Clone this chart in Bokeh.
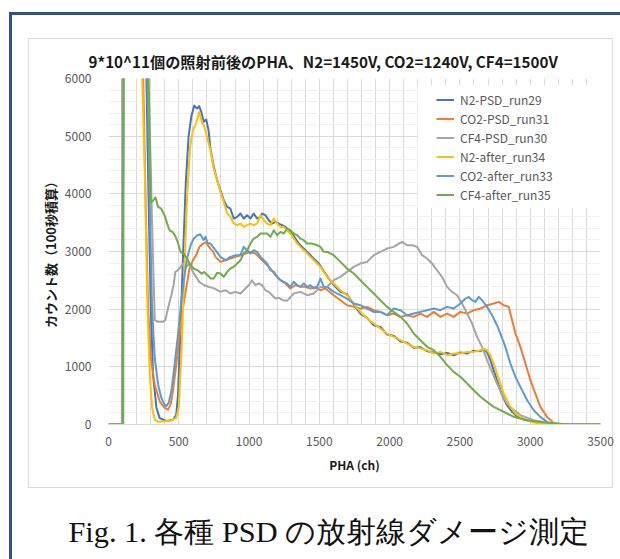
from bokeh.plotting import figure
from bokeh.layouts import column
from bokeh.models import FixedTicker, BoxAnnotation, Legend, LegendItem, Range1d
from bokeh.embed import file_html
from bokeh.resources import INLINE

# ---- text -------------------------------------------------------------
TITLE = "9*10^11個の照射前後のPHA、N2=1450V, CO2=1240V, CF4=1500V"
X_LABEL = "PHA (ch)"
Y_LABEL = "カウント数（100秒積算）"
CAPTION = "Fig. 1. 各種 PSD の放射線ダメージ測定"

X_TICKS = [0, 500, 1000, 1500, 2000, 2500, 3000, 3500]
Y_TICKS = [0, 1000, 2000, 3000, 4000, 5000, 6000]
X_GRID_STEP = 100
Y_MINOR_STEP = 200

# ---- series: (channel, counts) ---------------------------------------
N2_PSD_RUN29 = [
    (0, 0), (100, 0), (110, 12000), (200, 12000), (270, 6000), (282, 4300),
    (301, 2000), (317, 860), (341, 290), (364, 110), (411, 60), (458, 80),
    (482, 170), (494, 500), (510, 1500), (530, 2900), (550, 4200), (570, 5000),
    (590, 5350), (610, 5530), (630, 5480), (645, 5520), (660, 5420), (678, 5250),
    (695, 5290), (712, 5100), (725, 4785), (749, 4467), (773, 4236), (796, 4063),
    (820, 3889), (844, 3774), (867, 3745), (891, 3572), (915, 3600), (939, 3658),
    (962, 3572), (986, 3629), (1010, 3572), (1033, 3658), (1057, 3572),
    (1081, 3600), (1093, 3658), (1116, 3629), (1140, 3543), (1164, 3485),
    (1188, 3514), (1211, 3485), (1235, 3456), (1259, 3427), (1282, 3369),
    (1306, 3312), (1330, 3225), (1353, 3138), (1377, 3080), (1401, 3023),
    (1425, 2965), (1448, 2907), (1472, 2849), (1496, 2792), (1519, 2705),
    (1543, 2618), (1567, 2531), (1602, 2420), (1650, 2300), (1697, 2260),
    (1745, 2080), (1792, 1920), (1839, 1850), (1887, 1720), (1934, 1690),
    (1982, 1560), (2029, 1540), (2077, 1440), (2124, 1420), (2171, 1330),
    (2219, 1340), (2266, 1270), (2314, 1250), (2361, 1220), (2409, 1240),
    (2456, 1200), (2503, 1250), (2551, 1230), (2598, 1280), (2646, 1270),
    (2669, 1310), (2693, 1250), (2717, 1115), (2740, 941), (2764, 768),
    (2788, 595), (2811, 450), (2835, 334), (2871, 219), (2906, 144), (2954, 86),
    (3025, 46), (3096, 17), (3200, 0), (3500, 0),
]

CO2_PSD_RUN31 = [
    (0, 0), (100, 0), (110, 12000), (200, 12000), (247, 6000), (265, 3737),
    (282, 2012), (301, 1150), (329, 690), (364, 402), (400, 287), (423, 258),
    (442, 345), (458, 575), (482, 1035), (505, 1552), (529, 2012), (552, 2357),
    (576, 2702), (600, 2846), (623, 2932), (646, 3076), (670, 3133), (693, 3162),
    (724, 3050), (747, 2990), (761, 2907), (796, 2820), (832, 2849), (867, 2878),
    (903, 2907), (939, 2936), (974, 2965), (1010, 2994), (1045, 2965),
    (1081, 2878), (1116, 2792), (1152, 2705), (1188, 2589), (1223, 2503),
    (1259, 2445), (1294, 2358), (1330, 2416), (1365, 2387), (1401, 2387),
    (1436, 2358), (1472, 2387), (1507, 2329), (1543, 2358), (1602, 2242),
    (1650, 2155), (1697, 2069), (1745, 2040), (1792, 2011), (1839, 2040),
    (1887, 1982), (1934, 1953), (1982, 1895), (2029, 1924), (2077, 1866),
    (2124, 1895), (2171, 1866), (2219, 1924), (2266, 1866), (2314, 1953),
    (2361, 1866), (2409, 1924), (2456, 1866), (2503, 1953), (2551, 1924),
    (2598, 1982), (2646, 2011), (2693, 2068), (2740, 2097), (2776, 2126),
    (2811, 2068), (2847, 2040), (2871, 1808), (2895, 1577), (2930, 1346),
    (2966, 1057), (3001, 768), (3037, 537), (3072, 306), (3120, 132),
    (3167, 28), (3238, 0), (3500, 0),
]

CF4_PSD_RUN30 = [
    (0, 0), (95, 0), (100, 12000), (200, 12000), (280, 6500), (310, 3500),
    (329, 1810), (353, 1780), (388, 1780), (404, 1810), (423, 2010), (447, 2240),
    (463, 2415), (475, 2645), (505, 2700), (529, 2790), (552, 2730), (576, 2790),
    (600, 2645), (623, 2560), (646, 2470), (682, 2415), (717, 2385), (752, 2360),
    (796, 2300), (832, 2329), (867, 2271), (903, 2300), (939, 2271), (974, 2358),
    (998, 2416), (1021, 2502), (1045, 2416), (1069, 2445), (1093, 2416),
    (1116, 2329), (1140, 2300), (1164, 2242), (1188, 2185), (1211, 2200),
    (1240, 2155), (1270, 2144), (1318, 2271), (1365, 2300), (1413, 2242),
    (1460, 2271), (1508, 2386), (1555, 2386), (1602, 2502), (1650, 2560),
    (1697, 2647), (1745, 2733), (1792, 2791), (1839, 2820), (1887, 2936),
    (1934, 2993), (1982, 3051), (2029, 3080), (2065, 3138), (2088, 3167),
    (2124, 3109), (2160, 3109), (2195, 3080), (2231, 2936), (2266, 2878),
    (2302, 2791), (2337, 2675), (2373, 2560), (2409, 2386), (2444, 2300),
    (2480, 2242), (2515, 2097), (2551, 1924), (2586, 1751), (2622, 1520),
    (2657, 1347), (2693, 1115), (2729, 913), (2764, 711), (2800, 509),
    (2835, 364), (2883, 249), (2930, 162), (3025, 75), (3120, 29), (3215, 0),
    (3500, 0),
]

N2_AFTER_RUN34 = [
    (0, 0), (100, 0), (110, 12000), (200, 12000), (240, 6000), (259, 4300),
    (277, 2000), (294, 860), (310, 290), (329, 86), (353, 46), (400, 58),
    (447, 69), (482, 115), (500, 300), (520, 1300), (540, 2700), (560, 4000),
    (580, 4800), (600, 5100), (620, 5200), (645, 5420), (666, 5230), (678, 5190),
    (701, 4988), (725, 4757), (749, 4439), (773, 4236), (796, 4034), (820, 3860),
    (844, 3658), (867, 3600), (891, 3485), (915, 3456), (939, 3485), (962, 3427),
    (986, 3456), (1010, 3485), (1033, 3456), (1057, 3485), (1081, 3629),
    (1105, 3543), (1128, 3485), (1152, 3456), (1176, 3572), (1199, 3485),
    (1223, 3427), (1247, 3427), (1270, 3369), (1294, 3312), (1318, 3225),
    (1342, 3138), (1365, 3080), (1389, 3023), (1413, 2965), (1436, 2907),
    (1460, 2849), (1484, 2792), (1507, 2734), (1531, 2647), (1555, 2560),
    (1602, 2444), (1650, 2329), (1697, 2242), (1745, 2097), (1792, 1953),
    (1839, 1837), (1887, 1751), (1934, 1664), (1982, 1577), (2029, 1519),
    (2077, 1462), (2124, 1404), (2171, 1346), (2219, 1317), (2266, 1288),
    (2314, 1230), (2361, 1259), (2409, 1202), (2456, 1230), (2503, 1230),
    (2551, 1259), (2598, 1259), (2646, 1288), (2669, 1317), (2693, 1288),
    (2717, 1201), (2740, 1057), (2764, 883), (2788, 710), (2811, 537),
    (2835, 421), (2859, 305), (2895, 190), (2930, 132), (2978, 74), (3025, 34),
    (3072, 17), (3150, 0), (3500, 0),
]

CO2_AFTER_RUN33 = [
    (0, 0), (100, 0), (110, 12000), (200, 12000), (277, 6000), (294, 3737),
    (310, 2012), (329, 1150), (353, 690), (376, 460), (400, 345), (411, 316),
    (428, 374), (447, 575), (470, 1035), (494, 1552), (517, 2127), (541, 2587),
    (564, 2932), (588, 3133), (606, 3220), (630, 3277), (653, 3300), (677, 3200),
    (690, 3254), (705, 3150), (725, 3138), (761, 3023), (796, 2907), (832, 2849),
    (867, 2907), (903, 2936), (939, 2936), (962, 3080), (986, 3023), (1010, 2965),
    (1033, 3023), (1057, 2994), (1081, 2907), (1105, 2849), (1128, 2792),
    (1152, 2676), (1176, 2647), (1199, 2560), (1223, 2503), (1247, 2474),
    (1270, 2445), (1294, 2387), (1318, 2474), (1342, 2416), (1365, 2387),
    (1389, 2445), (1413, 2387), (1436, 2416), (1460, 2358), (1484, 2387),
    (1508, 2531), (1531, 2387), (1555, 2386), (1602, 2300), (1650, 2242),
    (1697, 2184), (1745, 2097), (1792, 2069), (1839, 2011), (1887, 1953),
    (1934, 1953), (1982, 1895), (2029, 2011), (2077, 1982), (2124, 1895),
    (2171, 1924), (2219, 1953), (2266, 1982), (2314, 2011), (2361, 1982),
    (2408, 2040), (2456, 2011), (2503, 2097), (2539, 2184), (2563, 2213),
    (2586, 2155), (2610, 2126), (2634, 2213), (2657, 2155), (2693, 2040),
    (2729, 1895), (2764, 1722), (2788, 1577), (2823, 1346), (2859, 1057),
    (2895, 826), (2930, 652), (2978, 421), (3025, 248), (3072, 132),
    (3120, 46), (3167, 5), (3250, 0), (3500, 0),
]

CF4_AFTER_RUN35 = [
    (0, 0), (105, 0), (110, 12000), (200, 12000), (280, 6500), (301, 3852),
    (317, 3880), (334, 3940), (352, 3778), (376, 3738), (400, 3622), (418, 3479),
    (435, 3364), (458, 3335), (475, 3266), (493, 3162), (512, 2990), (536, 2961),
    (559, 2875), (583, 2771), (606, 2702), (634, 2674), (663, 2616), (681, 2645),
    (705, 2587), (728, 2530), (749, 2531), (773, 2630), (796, 2618), (820, 2560),
    (844, 2647), (867, 2705), (891, 2734), (915, 2791), (939, 2849), (962, 2965),
    (986, 3023), (1010, 3138), (1033, 3225), (1057, 3254), (1081, 3312),
    (1105, 3312), (1128, 3312), (1152, 3254), (1176, 3369), (1199, 3283),
    (1223, 3340), (1247, 3312), (1270, 3398), (1294, 3369), (1318, 3311),
    (1342, 3283), (1365, 3225), (1389, 3196), (1413, 3138), (1436, 3138),
    (1460, 3130), (1484, 3109), (1508, 3080), (1531, 2994), (1555, 2993),
    (1602, 2936), (1650, 2820), (1697, 2704), (1745, 2618), (1792, 2502),
    (1839, 2386), (1887, 2271), (1934, 2155), (1982, 2040), (2029, 1953),
    (2077, 1866), (2124, 1751), (2171, 1577), (2219, 1462), (2266, 1347),
    (2314, 1289), (2361, 1173), (2409, 1029), (2456, 913), (2503, 827),
    (2551, 711), (2598, 595), (2646, 480), (2693, 393), (2740, 306), (2788, 249),
    (2835, 191), (2883, 133), (2977, 75), (3120, 29), (3262, 6), (3350, 0),
    (3500, 0),
]

SERIES_NAMES = ["N2-PSD_run29", "CO2-PSD_run31", "CF4-PSD_run30",
                "N2-after_run34", "CO2-after_run33", "CF4-after_run35"]
SERIES_DATA = [N2_PSD_RUN29, CO2_PSD_RUN31, CF4_PSD_RUN30,
               N2_AFTER_RUN34, CO2_AFTER_RUN33, CF4_AFTER_RUN35]
SERIES_COLORS = ["#4472C4", "#ED7D31", "#A5A5A5", "#FFC000", "#5B9BD5", "#70AD47"]

# ---- layout (pixels) ---------------------------------------------------
W = 620
CHART_H, CAP_H = 495, 64          # chart figure on top, caption strip below
F_LEFT, F_RIGHT, F_TOP, F_BOTTOM = 108, 600, 78, 424

JP = "Noto Sans CJK JP"
TICK_COLOR = "#595959"
GRID_COLOR = "#D9D9D9"
MINOR_GRID_COLOR = "#EFEFEF"
FRAME_BLUE = "#2F5091"


def bar(color, x, y, w, h):
    """One solid CSS background layer: a straight rule of the page frame."""
    return f"linear-gradient({color}, {color}) {x}px {y}px / {w}px {h}px no-repeat"


# page frame (dark blue, left + top) and the light chart-area border
chart_background = ", ".join([
    bar(FRAME_BLUE, 9, 12, 3, CHART_H - 12),
    bar(FRAME_BLUE, 9, 12, W - 9, 3),
    bar(GRID_COLOR, 28, 38, 585, 1),
    bar(GRID_COLOR, 28, 487, 585, 1),
    bar(GRID_COLOR, 28, 38, 1, 450),
    bar(GRID_COLOR, 612, 38, 1, 450),
    "#FFFFFF",
])
caption_background = ", ".join([bar(FRAME_BLUE, 9, 0, 3, CAP_H), "#FFFFFF"])

p = figure(width=W, height=CHART_H,
           x_range=Range1d(X_TICKS[0], X_TICKS[-1]),
           y_range=Range1d(Y_TICKS[0], Y_TICKS[-1]),
           output_backend="svg", toolbar_location=None,
           min_border_left=F_LEFT, min_border_right=W - F_RIGHT,
           min_border_top=F_TOP, min_border_bottom=CHART_H - F_BOTTOM,
           background_fill_color="white", border_fill_alpha=0.0,
           outline_line_color=None,
           styles={"background": chart_background})

# chart title
p.title.text = TITLE
p.title.align = "left"
p.title.offset = -20
p.title.standoff = 14
p.title.text_font = JP
p.title.text_font_style = "bold"
p.title.text_font_size = "15.2px"
p.title.text_color = "#1a1a1a"

# axes
p.xaxis.ticker = FixedTicker(ticks=X_TICKS)
p.yaxis.ticker = FixedTicker(ticks=Y_TICKS)
for ax in (p.xaxis, p.yaxis):
    ax.major_tick_line_color = None
    ax.minor_tick_line_color = None
    ax.major_label_text_font = JP
    ax.major_label_text_font_size = "12px"
    ax.major_label_text_color = TICK_COLOR
    ax.axis_label_text_font = JP
    ax.axis_label_text_font_style = "bold"
    ax.axis_label_text_color = "#1a1a1a"
p.xaxis.axis_line_color = GRID_COLOR
p.yaxis.axis_line_color = None
p.xaxis.major_label_standoff = 6
p.yaxis.major_label_standoff = 11
p.xaxis.axis_label = X_LABEL
p.yaxis.axis_label = Y_LABEL
p.xaxis.axis_label_text_font_size = "12px"
p.yaxis.axis_label_text_font_size = "13px"
p.xaxis.axis_label_standoff = 7
p.yaxis.axis_label_standoff = 2

# grid: every 100 ch vertically, 1000 / 200 counts horizontally
p.xgrid.ticker = FixedTicker(ticks=list(range(X_TICKS[0], X_TICKS[-1] + 1, X_GRID_STEP)))
p.xgrid.grid_line_color = GRID_COLOR
p.ygrid.ticker = FixedTicker(
    ticks=Y_TICKS,
    minor_ticks=[v for v in range(Y_TICKS[0], Y_TICKS[-1] + 1, Y_MINOR_STEP)
                 if v not in Y_TICKS])
p.ygrid.grid_line_color = GRID_COLOR
p.ygrid.minor_grid_line_color = MINOR_GRID_COLOR

# white panel behind the legend
p.add_layout(BoxAnnotation(left=417 - F_LEFT, right=F_RIGHT - F_LEFT,
                           top=F_BOTTOM - 85, bottom=F_BOTTOM - 208,
                           left_units="screen", right_units="screen",
                           top_units="screen", bottom_units="screen",
                           fill_color="white", fill_alpha=1.0, line_color=None,
                           level="underlay"))

# series
items = []
for name, data, color in zip(SERIES_NAMES, SERIES_DATA, SERIES_COLORS):
    xs = [c for c, _ in data]
    ys = [v for _, v in data]
    r = p.line(xs, ys, line_color=color, line_width=2, line_join="round")
    items.append(LegendItem(label=name, renderers=[r]))

legend = Legend(items=items, location=(328, 220),
                padding=6, spacing=0, margin=0,
                glyph_width=18, glyph_height=19, label_height=19,
                label_standoff=6,
                label_text_font=JP, label_text_font_size="12px",
                label_text_color=TICK_COLOR,
                border_line_color=None, background_fill_color="white",
                background_fill_alpha=1.0)
p.add_layout(legend)

# caption strip under the chart; the caption is this strip's title
cap = figure(width=W, height=CAP_H, x_range=Range1d(0, 1), y_range=Range1d(0, 1),
             output_backend="svg", toolbar_location=None,
             min_border_top=58, min_border_bottom=0,
             background_fill_alpha=0.0, border_fill_alpha=0.0,
             outline_line_color=None,
             styles={"background": caption_background})
cap.axis.visible = False
cap.grid.visible = False
cap.title.text = CAPTION
cap.title.align = "left"
cap.title.offset = -40
cap.title.standoff = 10
cap.title.text_font = "Liberation Serif"
cap.title.text_font_size = "30.3px"
cap.title.text_font_style = "normal"
cap.title.text_color = "#111111"

page = column(p, cap, spacing=0)
open("out.html", "w").write(file_html(page, INLINE))
